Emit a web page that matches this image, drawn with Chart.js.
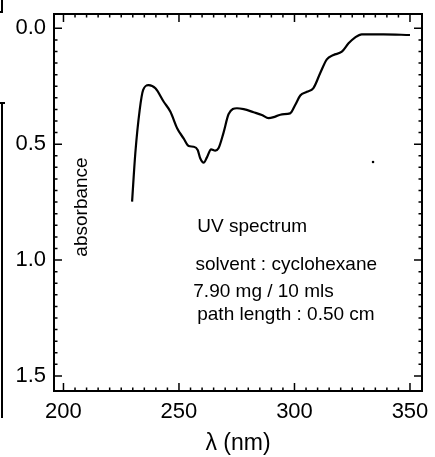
<!DOCTYPE html>
<html><head><meta charset="utf-8">
<script src="https://cdn.jsdelivr.net/npm/chart.js@4/dist/chart.umd.min.js"></script>
<style>html,body{margin:0;padding:0;background:#fff;}canvas{display:block}</style>
</head><body>
<canvas id="c" width="435" height="457"></canvas>
<script>
// ---- data ----
const wavelength = [229.7, 231.1, 233.0, 234.5, 236.9, 239.8, 243.4, 246.3, 249.2, 252.0, 254.2, 256.3, 258.1, 259.2, 260.7, 262.1, 263.9, 265.7, 267.1, 269.3, 271.5, 275.1, 278.0, 282.3, 285.9, 288.8, 291.7, 294.6, 298.1, 300.3, 302.5, 305.4, 308.2, 311.1, 314.0, 316.9, 320.5, 323.4, 326.3, 329.1, 338.5, 350.0];
const absorbance = [0.748, 0.539, 0.352, 0.266, 0.245, 0.259, 0.317, 0.360, 0.431, 0.475, 0.508, 0.511, 0.525, 0.561, 0.580, 0.557, 0.522, 0.528, 0.518, 0.450, 0.370, 0.345, 0.349, 0.362, 0.374, 0.388, 0.381, 0.371, 0.367, 0.331, 0.290, 0.274, 0.258, 0.194, 0.134, 0.115, 0.101, 0.065, 0.039, 0.026, 0.026, 0.029];
const speckWavelength = [334.0];
const speckAbsorbance = [0.577];

const xTickValues = [200, 250, 300, 350];
const xTickLabels = ['200', '250', '300', '350'];
const yTickValues = [0, 0.5, 1.0, 1.5];
const yTickLabels = ['0.0', '0.5', '1.0', '1.5'];
const xAxisTitle = 'λ (nm)';
const yAxisLabel = 'absorbance';
const annotationLines = ['UV spectrum', 'solvent : cyclohexane', '7.90 mg / 10 mls', 'path length : 0.50 cm'];

// ---- layout / style ----
const FONT = '"Liberation Sans", Arial, Helvetica, sans-serif';
const annotX = [257.9, 257.1, 256.2, 257.9];       // wavelength units
const annotY = [0.879, 1.043, 1.158, 1.258];       // absorbance units (baseline)
const labelPos = {x: 208.0, y: 0.771};

const decorPlugin = {
  id: 'decor',
  afterDraw(chart) {
    const ctx = chart.ctx, a = chart.chartArea;
    const xs = chart.scales.x, ys = chart.scales.y;
    ctx.save();
    ctx.strokeStyle = '#000';
    ctx.fillStyle = '#000';
    // frame
    ctx.lineWidth = 2;
    ctx.strokeRect(a.left, a.top, a.right - a.left, a.bottom - a.top);
    // ticks on four sides (inward)
    ctx.lineWidth = 1.5;
    ctx.beginPath();
    for (let v = 200; v <= 350.01; v += 5) {
      const p = xs.getPixelForValue(v);
      const major = Math.abs(v % 50) < 0.01;
      const L = major ? 8 : 3.5;
      ctx.moveTo(p, a.bottom); ctx.lineTo(p, a.bottom - L);
      ctx.moveTo(p, a.top); ctx.lineTo(p, a.top + L);
    }
    for (let i = 0; i <= 30; i++) {
      const v = i * 0.05;
      const p = ys.getPixelForValue(v);
      const major = i % 10 === 0;
      const L = major ? 8 : 3.5;
      ctx.moveTo(a.left, p); ctx.lineTo(a.left + L, p);
      ctx.moveTo(a.right, p); ctx.lineTo(a.right - L, p);
    }
    ctx.stroke();
    // annotation text
    ctx.font = '19px ' + FONT;
    ctx.textAlign = 'left';
    ctx.textBaseline = 'alphabetic';
    annotationLines.forEach((t, i) => {
      ctx.fillText(t, xs.getPixelForValue(annotX[i]), ys.getPixelForValue(annotY[i]));
    });
    // rotated axis label inside plot
    ctx.save();
    ctx.translate(xs.getPixelForValue(labelPos.x), ys.getPixelForValue(labelPos.y));
    ctx.rotate(-Math.PI / 2);
    ctx.textAlign = 'center';
    ctx.textBaseline = 'middle';
    ctx.font = '19px ' + FONT;
    ctx.fillText(yAxisLabel, 0, 0);
    ctx.restore();
    // scan edge remnants at the left margin
    ctx.lineWidth = 2;
    ctx.beginPath();
    ctx.moveTo(2, 0); ctx.lineTo(2, 12); ctx.lineTo(0, 12);
    ctx.moveTo(0, 103); ctx.lineTo(5, 103); ctx.moveTo(2, 103); ctx.lineTo(2, 418);
    ctx.stroke();
    ctx.restore();
  }
};

new Chart(document.getElementById('c'), {
  type: 'line',
  data: {
    datasets: [{
      data: wavelength.map((w, i) => ({x: w, y: absorbance[i]})),
      borderColor: '#000',
      borderWidth: 2.2,
      pointRadius: 0,
      cubicInterpolationMode: 'monotone',
      fill: false
    }, {
      type: 'scatter',
      data: speckWavelength.map((w, i) => ({x: w, y: speckAbsorbance[i]})),
      pointRadius: 1.3,
      pointBackgroundColor: '#000',
      pointBorderWidth: 0,
      showLine: false
    }]
  },
  options: {
    animation: false,
    responsive: false,
    devicePixelRatio: 1,
    layout: {padding: {top: 14, right: 13, left: 0, bottom: 0}},
    plugins: {legend: {display: false}, tooltip: {enabled: false}},
    scales: {
      x: {
        type: 'linear', min: 195.9, max: 355.2,
        grid: {display: false}, border: {display: false},
        afterFit(s) { s.height = 66; },
        afterBuildTicks(s) { s.ticks = xTickValues.map(v => ({value: v})); },
        ticks: {
          font: {family: FONT, size: 22}, color: '#000', padding: 0,
          maxRotation: 0, autoSkip: false,
          callback: (v, i) => xTickLabels[i]
        },
        title: {display: true, text: xAxisTitle, font: {family: FONT, size: 23}, color: '#000', padding: 0}
      },
      y: {
        type: 'linear', reverse: true, min: -0.0617, max: 1.565,
        grid: {display: false}, border: {display: false},
        afterFit(s) { s.width = 54; },
        afterBuildTicks(s) { s.ticks = yTickValues.map(v => ({value: v})); },
        ticks: {
          font: {family: FONT, size: 22}, color: '#000', padding: 0,
          autoSkip: false,
          callback: (v, i) => yTickLabels[i]
        }
      }
    }
  },
  plugins: [decorPlugin]
});
</script>
</body></html>
